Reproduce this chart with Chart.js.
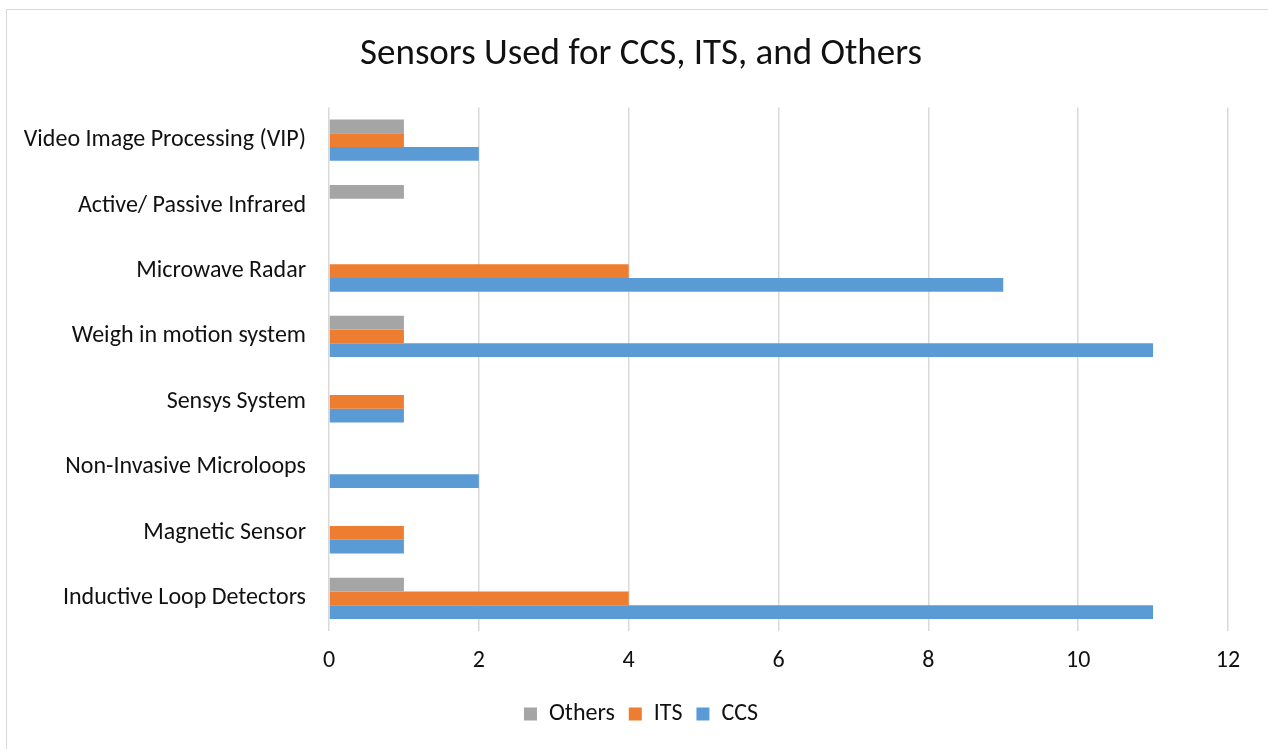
<!DOCTYPE html>
<html>
<head>
<meta charset="utf-8">
<script src="https://cdn.jsdelivr.net/npm/chart.js@4/dist/chart.umd.min.js"></script>
<style>
  html, body { margin: 0; padding: 0; background: #fff; }
  #wrap { position: relative; width: 1268px; height: 749px; overflow: hidden; }
  #frame {
    position: absolute; left: 6px; top: 9px; width: 1400px; height: 900px;
    border-left: 1.5px solid #d9d9d9; border-top: 1.5px solid #d9d9d9;
  }
  canvas { position: absolute; left: 0; top: 0; }
</style>
</head>
<body>
<div id="wrap">
  <div id="frame"></div>
  <canvas id="chart" width="1268" height="749"></canvas>
</div>
<script>
const FONT = 'Carlito, Calibri, Lato, "Noto Sans", sans-serif';

// categories, top to bottom
const sensors = [
  'Video Image Processing (VIP)',
  'Active/ Passive Infrared',
  'Microwave Radar',
  'Weigh in motion system',
  'Sensys System',
  'Non-Invasive Microloops',
  'Magnetic Sensor',
  'Inductive Loop Detectors'
];

const others = [1, 1, 0, 1, 0, 0, 0, 1];
const its    = [1, 0, 4, 1, 1, 0, 1, 4];
const ccs    = [2, 0, 9, 11, 1, 2, 1, 11];

const xTicks = [0, 2, 4, 6, 8, 10, 12];

// let the long category labels run into the left padding instead of being clipped
const CategoryScale = Chart.registry.getScale('category');
CategoryScale.prototype._computeLabelArea = function() { return undefined; };

const ctx = document.getElementById('chart').getContext('2d');
new Chart(ctx, {
  type: 'bar',
  data: {
    labels: sensors,
    datasets: [
      { label: 'Others', data: others, backgroundColor: '#a5a5a5' },
      { label: 'ITS', data: its, backgroundColor: '#ed7d31' },
      { label: 'CCS', data: ccs, backgroundColor: '#5b9bd5' }
    ]
  },
  options: {
    indexAxis: 'y',
    responsive: false,
    animation: false,
    devicePixelRatio: 1,
    datasets: {
      bar: { categoryPercentage: 0.63, barPercentage: 1, borderWidth: 0 }
    },
    // left padding keeps title/legend centred like the original
    layout: { padding: { left: 54, right: 40, top: 0, bottom: 13 } },
    plugins: {
      title: {
        display: true,
        text: 'Sensors Used for CCS, ITS, and Others',
        color: '#111',
        font: { family: FONT, size: 37, weight: 'normal' },
        padding: { top: 33, bottom: 30 }
      },
      legend: {
        position: 'bottom',
        labels: {
          color: '#111',
          font: { family: FONT, size: 24 },
          boxWidth: 13,
          boxHeight: 13,
          padding: 14
        }
      },
      tooltip: { enabled: false }
    },
    scales: {
      x: {
        min: 0,
        max: 12,
        afterBuildTicks: (scale) => { scale.ticks = xTicks.map(v => ({ value: v })); },
        afterFit: (scale) => { scale.height = 57; },
        grid: { color: '#d9d9d9', lineWidth: 1.5, drawTicks: false },
        border: { display: false },
        ticks: { color: '#111', font: { family: FONT, size: 24 }, padding: 16 }
      },
      y: {
        afterFit: (scale) => { scale.width = 275; },
        grid: { display: false, drawTicks: false },
        border: { display: false },
        ticks: { color: '#111', font: { family: FONT, size: 24 }, padding: 23 }
      }
    }
  }
});
</script>
</body>
</html>
